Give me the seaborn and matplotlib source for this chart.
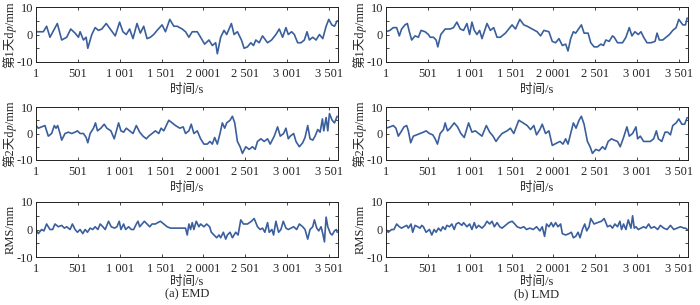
import matplotlib
matplotlib.use("Agg")
import matplotlib.pyplot as plt
import seaborn as sns
import numpy as np

# ---------------- data ----------------
t_emd_d1 = [1,88,128,168,256,308,368,416,468,508,528,568,600,620,668,708,748,788,840,888,948,1000,1040,1080,1120,1160,1208,1248,1288,1328,1368,1408,1448,1508,1548,1600,1648,1688,1748,1788,1828,1868,1928,1968,2016,2068,2108,2148,2168,2208,2248,2280,2336,2368,2408,2456,2488,2528,2568,2600,2628,2668,2708,2768,2816,2868,2908,2948,2988,3016,3056,3088,3128,3168,3208,3240,3268,3308,3348,3388,3428,3468,3500,3536,3568,3600]
v_emd_d1 = [1,1,3,-1,4,-2,-1,2,0.5,-1,1,-2,-1,-5,0,2.5,1.5,2,4,2,-0.5,4.5,1,0,2,-1.5,4,0.5,3,-1.5,-1,0,1.5,3.5,1,5.5,3,3,2,1,-1,1,1,-1,-3.5,-2,-4,-3,-7,-1,1.5,0,4,0,1,-2,-5,-4.5,-3,-4,-2,-3,-0.5,-3,-2,0,2,-1,2.5,0,1,0,-3,-3,-2,1,-2,-1,-2,0,-1.5,3,5.5,3.5,3,5]

t_lmd_d1 = [1,48,88,128,160,188,228,256,280,308,348,388,420,468,508,528,568,600,620,656,708,768,808,848,888,928,968,1000,1028,1056,1088,1120,1148,1208,1248,1288,1328,1368,1428,1468,1508,1548,1600,1648,1688,1748,1808,1848,1888,1948,1988,2028,2068,2108,2148,2176,2208,2240,2268,2336,2368,2416,2448,2488,2528,2568,2600,2628,2668,2708,2728,2768,2828,2868,2908,2940,2976,3016,3048,3080,3120,3168,3216,3240,3268,3308,3348,3388,3428,3468,3500,3548,3580,3600]
v_lmd_d1 = [1,1.5,2.5,2.5,-0.5,2,3.5,4,1,-2,-0.5,-1,1.5,1,0,-1,-1,-2,-4.5,0,2,2,2.5,4.5,2,1.5,4,0,4.5,1.5,0,1.5,-1.5,4,1.5,2.5,-1,-1,0.5,2,3.5,2,5.5,3.5,3,2,1,-0.5,1.5,1,-2.5,-3,-1.5,-4,-3.5,-6,-1.5,1,0.5,3.5,0.5,0.5,-3,-4.5,-4.5,-3.5,-4,-2,-2.5,-0.5,-1,-3,-3,-1,2.5,-0.5,1,0,1,-1,-3,-3,-2.5,0.5,-2,-2,-1,0,1.5,2.5,5.5,3.5,3.5,6]

t_emd_d2 = [1,28,68,108,148,188,220,240,260,288,308,348,388,428,468,496,528,568,600,620,648,688,712,736,776,816,848,896,936,988,1016,1048,1080,1120,1160,1200,1240,1280,1320,1348,1388,1428,1468,1496,1528,1588,1628,1668,1720,1760,1788,1828,1856,1888,1928,1968,2008,2048,2080,2108,2136,2168,2200,2228,2256,2280,2320,2348,2376,2408,2440,2468,2508,2548,2588,2620,2648,2688,2728,2768,2800,2848,2888,2920,2960,2988,3016,3040,3080,3108,3148,3188,3216,3248,3276,3308,3336,3368,3396,3424,3440,3468,3488,3508,3540,3568,3600]
v_emd_d2 = [3,2,2.5,3,-1,0,3,2,3,0,-2.5,0,0.5,0,0.5,1,0,0,-1.5,-3.5,0,2,4,1,2,3.5,2,1,-2,4,1,0.5,2,1,0,3,0.5,-1,-2,-1,0,1,0,2,1,5,4,3,2,2.5,0,1,3.5,0,1,-2,-4,-4,-3,-4,-1.5,-4,0,4,2,4,5,6.5,4,-3,-5,-7.5,-5,-6,-5,-6,-3,-2,-3,-2,-4,-1,2.5,-1,0,2,-2,-1,0,-3,-5,-3.5,-1.5,3,-2,-2.5,-1,1.5,0.5,5.5,1,6,1,7.5,5,4,6.5]

t_lmd_d2 = [1,48,88,120,148,188,216,248,268,296,328,368,408,448,480,520,560,588,616,648,688,708,736,768,816,856,896,936,988,1028,1068,1108,1148,1200,1240,1280,1316,1348,1388,1448,1488,1528,1588,1640,1688,1728,1768,1800,1840,1868,1908,1948,1988,2048,2080,2116,2148,2176,2208,2240,2272,2308,2336,2368,2408,2440,2468,2508,2548,2588,2620,2656,2696,2728,2768,2800,2840,2880,2908,2948,2988,3008,3040,3080,3120,3160,3200,3232,3256,3296,3336,3368,3400,3428,3468,3500,3536,3570,3600]
v_lmd_d2 = [2,2.5,3,2,-1,1,2.5,3,1,-3.5,-1,-0.5,0,0.5,1,0,-0.5,-2,-4,0,1.5,4,1,2,4,2.5,0,-1.5,4,0.5,1,0,-1,3,0.5,-1,-3,-1.5,0,1,2,0,5,4,3,1.5,3,-0.5,1.5,3.5,0,1,-4.5,-3.5,-3,-4,-2,-4,0,4,2,5,6.5,3.5,-3,-5,-7.5,-6,-6.5,-5,-6,-3,-2,-2.5,-3,-5,-1.5,2.5,-1,0,2.5,-2,-1,-3,-3,-3,-2,1,-2,-3,0.5,0.5,-0.5,3,4,5.5,3.5,3.5,6]

t_emd_rms = [1,28,68,96,128,168,200,228,268,308,340,368,408,436,468,496,528,560,588,616,648,680,708,740,768,800,828,868,900,940,968,996,1016,1048,1072,1108,1140,1168,1200,1220,1240,1268,1296,1328,1360,1388,1428,1456,1488,1528,1568,1608,1648,1708,1760,1788,1808,1828,1848,1868,1888,1916,1948,1968,2008,2040,2076,2096,2128,2160,2188,2208,2240,2268,2288,2320,2348,2388,2416,2448,2480,2528,2576,2608,2648,2680,2708,2736,2768,2788,2820,2840,2868,2900,2928,2956,2988,3016,3048,3080,3116,3148,3188,3216,3248,3276,3308,3328,3356,3380,3408,3428,3448,3468,3488,3520,3540,3568,3590,3600]
v_emd_rms = [0,-1.5,0,-0.5,2,0,0,2,1,1.5,0.5,1,0,2,0,-1,0,-1.5,0,-1,0.5,0,1,0,2,1,0,3,1,0.5,1,3,0,2,0,1,0,0,2,3,1,2,3,2,1,2,2,2.5,3,2,1,0.5,0.5,0.5,0.5,0.5,-2,2,0,2.5,0,3,1,2,1,2,1,-1,-2,-3,-2,-3,-1,-3.5,-2,-1,-3,-1,-2,3.5,2,2,3,4,1,0,0.5,-1,2.5,-1,0,-2,3,-1,0,3,0.5,0,0.5,1,0,2,1,0,-3.5,0,1,3.5,0.5,-0.5,1,-1.5,-4.5,4.5,1,-1.5,-2,-0.5,0,-1]

t_lmd_rms = [1,28,68,96,128,160,188,216,248,268,300,320,348,380,408,428,448,480,520,548,576,600,628,656,680,708,728,760,788,816,840,868,908,928,968,1000,1028,1056,1080,1108,1148,1180,1208,1240,1268,1296,1328,1360,1388,1428,1468,1508,1540,1568,1608,1648,1680,1720,1760,1800,1840,1868,1896,1920,1948,1976,2000,2028,2056,2088,2108,2148,2188,2216,2240,2268,2296,2320,2348,2376,2400,2428,2448,2488,2528,2576,2608,2648,2680,2708,2736,2768,2796,2816,2840,2868,2896,2928,2948,2968,2988,3016,3048,3080,3108,3140,3168,3208,3248,3280,3320,3360,3400,3440,3480,3520,3560,3580,3600]
v_lmd_rms = [0,-1,0,0,2,1,0.5,1,1.5,0.5,2,-1,1.5,1,0.5,1.5,1,-1,0,-2,0,-1,0.5,-0.5,1,0,1.5,1,2,0,2,2.5,1.5,2.5,1,2,0,2.5,0.5,1.5,0.5,1.5,3,2,3,1,2.5,1,0.5,1.5,2.5,3,2,1,0.5,1,0,0.5,0,1,-0.5,1,-2.5,2,1,2.5,1,2.5,1,2,-1.5,-2,-1.5,-1,-3,-2.5,-1,-3,0,2,-0.5,1,4,2,2.5,3,4,1,1.5,0.5,2,1,3,0,2,0,3.5,0.5,5,0.5,1,0,0.5,1,0.5,2,0.5,1,0,1.5,0.5,0,1.5,0,0.5,1,0.5,0.5,0]

x_ticks = [1, 501, 1001, 1501, 2001, 2501, 3001, 3501]
x_ticklabels = ["1", "501", "1 001", "1 501", "2 0001", "2 501", "3 001", "3 501"]
y_ticks = [-10, 0, 10]
y_labels = ["第1天d\U0001D45D/mm", "第2天d\U0001D45D/mm", "RMS/mm"]
x_label = "时间/s"
captions = ["(a) EMD", "(b) LMD"]

# ---------------- style ----------------
sns.set_style("ticks")
plt.rcParams["font.family"] = ["Liberation Serif", "Noto Sans CJK SC", "STIXGeneral", "DejaVu Serif"]
plt.rcParams["axes.unicode_minus"] = False

line_color = "#3a5f9c"
fs = 9

fig = plt.figure(figsize=(7.0, 3.05), dpi=100)

col_left = [36 / 700, 386 / 700]
col_w = 302 / 700
rows = [(1 - 62 / 305, 55 / 305), (1 - 160 / 305, 53 / 305), (1 - 257 / 305, 55 / 305)]

series = [
    [(t_emd_d1, v_emd_d1), (t_emd_d2, v_emd_d2), (t_emd_rms, v_emd_rms)],
    [(t_lmd_d1, v_lmd_d1), (t_lmd_d2, v_lmd_d2), (t_lmd_rms, v_lmd_rms)],
]

for c in range(2):
    for r in range(3):
        b, h = rows[r]
        ax = fig.add_axes([col_left[c], b, col_w, h])
        t, v = series[c][r]
        sns.lineplot(x=t, y=v, ax=ax, color=line_color, linewidth=1.2, sort=False)
        ax.set_xlim(1, 3610)
        ax.set_ylim(-10, 10)
        ax.set_xticks(x_ticks)
        ax.set_xticklabels(x_ticklabels, fontsize=fs)
        ax.set_yticks(y_ticks)
        ax.set_yticklabels([str(y) for y in y_ticks], fontsize=fs)
        ax.set_yticks([-5, 5], minor=True)
        ax.tick_params(axis="both", which="both", direction="in", top=True, right=True,
                       length=2.5, width=0.6)
        ax.tick_params(axis="x", pad=4)
        ax.tick_params(axis="y", pad=2)
        for sp in ax.spines.values():
            sp.set_linewidth(0.7)
            sp.set_color("#222222")
        ax.set_xlabel(x_label, fontsize=fs, labelpad=(1 if r == 2 else 3))
        ax.set_ylabel(y_labels[r], fontsize=fs, labelpad=0)
        if r == 2:
            ax.text(0.5, -0.68, captions[c], transform=ax.transAxes, ha="center",
                    va="center", fontsize=fs)

fig.savefig("out.png", dpi=100)
